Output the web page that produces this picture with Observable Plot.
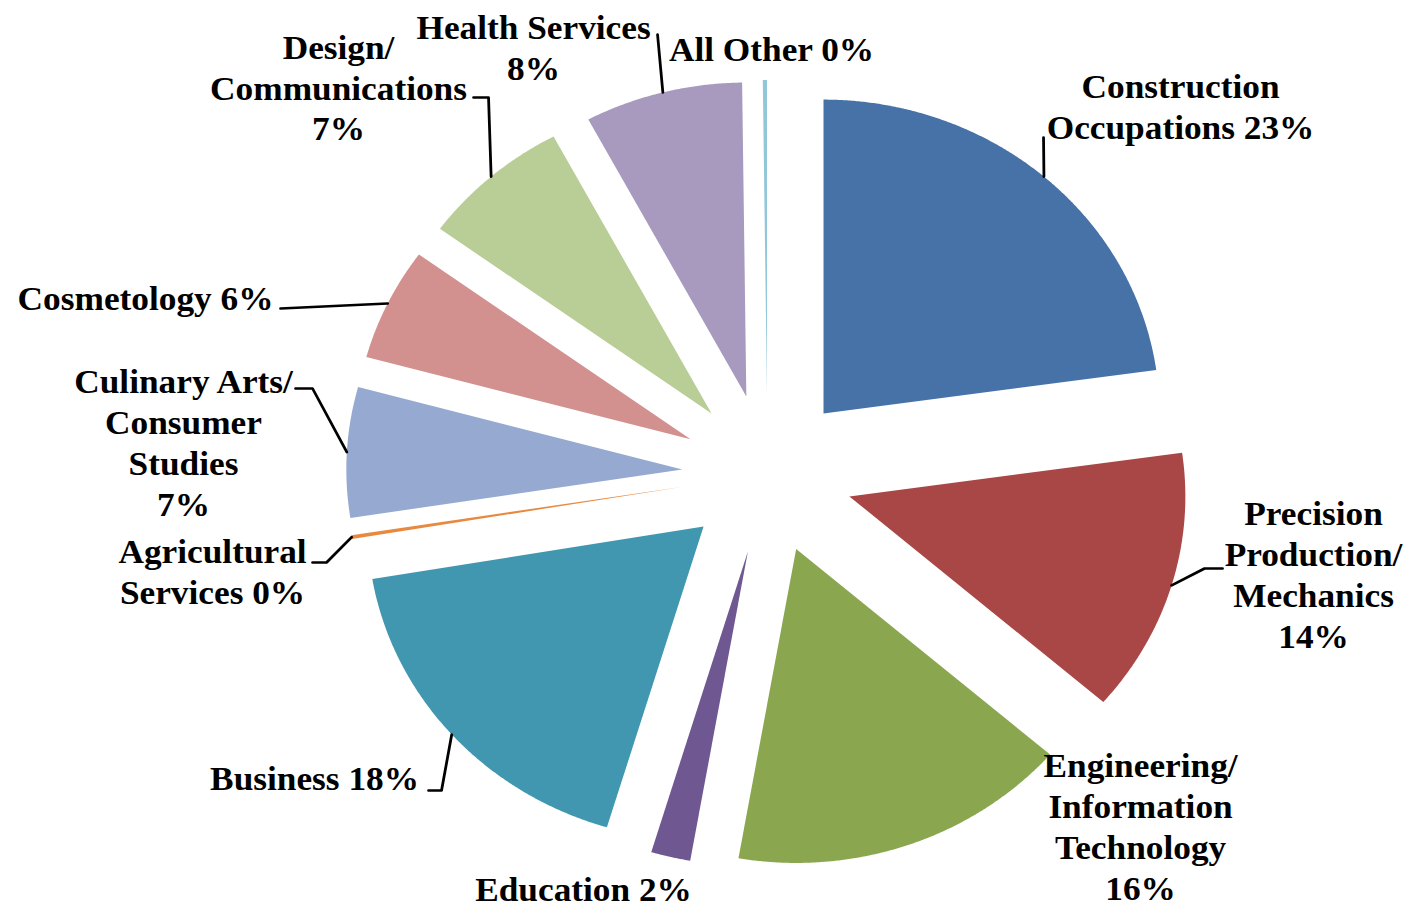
<!DOCTYPE html>
<html><head><meta charset="utf-8">
<script src="https://cdn.jsdelivr.net/npm/d3@7"></script>
<script src="https://cdn.jsdelivr.net/npm/@observablehq/plot@0.6"></script>
<style>
html,body{margin:0;padding:0;background:#fff;overflow:hidden}
#chart{width:1410px;height:909px;overflow:hidden}
#chart svg{transform:scaleX(1.07);transform-origin:0 0;display:block}
</style></head><body><div id="chart"></div>
<script>
// ---- data ----
const categories = ["Construction Occupations","Precision Production/Mechanics","Engineering/Information Technology","Education","Business","Agricultural Services","Culinary Arts/Consumer Studies","Cosmetology","Design/Communications","Health Services","All Other"];
const values = [22.8, 13.6, 16.4, 1.9, 17.7, 0.2, 6.7, 5.8, 7.2, 7.6, 0.2];
const colors = ["#4672A7","#A84745","#8AA64F","#6F5891","#4197AF","#E8893F","#95A9D1","#D2908F","#B9CD97","#A89ABE","#92C7D9"];
const labelTemplates = ["Construction\nOccupations {p}","Precision\nProduction/\nMechanics\n{p}","Engineering/\nInformation\nTechnology\n{p}","Education {p}","Business {p}","Agricultural\nServices {p}","Culinary Arts/\nConsumer\nStudies\n{p}","Cosmetology {p}","Design/\nCommunications\n{p}","Health Services\n{p}","All Other {p}"];

// ---- layout (reference pixel space) ----
const S = 1.07, REF_W = 1410, H = 909, W = Math.round(REF_W / S);
const CXpx = 767, CYpx = 473.3, R = 314, EXPLODE = 0.254;
const cxU = CXpx / S;
const fromPx = (px, py) => ({x: (px / S - cxU) / R, y: (CYpx - py) / R});
const labelPos = [[1180,105],[1313,573],[1140,825],[583,887],[314,776],[212,570],[183,441],[145,296],[338,86],[533,46],[771,47]];
const leaderAnchors = {
  "Construction Occupations": [[1043,137]],
  "Precision Production/Mechanics": [[1222,568],[1204,568]],
  "Business": [[428,790],[441,790]],
  "Agricultural Services": [[312,562],[326,562]],
  "Culinary Arts/Consumer Studies": [[295,388],[312,388]],
  "Cosmetology": [[280,308]],
  "Design/Communications": [[473,97],[488,97]],
  "Health Services": [[657,34]]
};

const total = d3.sum(values);
const arcs = d3.pie().sort(null).value(d => d)(values);
const slicePts = [], leaderPts = [], labels = [];
arcs.forEach((a, i) => {
  const cat = categories[i];
  const m = (a.startAngle + a.endAngle) / 2;
  const ox = EXPLODE * Math.sin(m), oy = EXPLODE * Math.cos(m);
  slicePts.push({cat, x: ox, y: oy});
  const n = Math.max(2, Math.ceil((a.endAngle - a.startAngle) / 0.005));
  for (let k = 0; k <= n; k++) {
    const t = a.startAngle + (a.endAngle - a.startAngle) * k / n;
    slicePts.push({cat, x: ox + Math.sin(t), y: oy + Math.cos(t)});
  }
  if (leaderAnchors[cat]) {
    leaderAnchors[cat].forEach(([px, py]) => leaderPts.push({cat, ...fromPx(px, py)}));
    leaderPts.push({cat, x: ox + Math.sin(m), y: oy + Math.cos(m)});
  }
  const p = Math.round(values[i] / total * 100) + "%";
  labels.push({cat, ...fromPx(labelPos[i][0], labelPos[i][1]), text: labelTemplates[i].replace("{p}", p)});
});

const chart = Plot.plot({
  width: W, height: H,
  margin: 0,
  x: {domain: [(0 - cxU) / R, (W - cxU) / R], axis: null},
  y: {domain: [(CYpx - H) / R, CYpx / R], axis: null},
  color: {domain: categories, range: colors},
  marks: [
    Plot.line(slicePts, {x: "x", y: "y", z: "cat", fill: "cat", stroke: null, curve: "linear-closed"}),
    Plot.line(leaderPts, {x: "x", y: "y", z: "cat", stroke: "#000", strokeWidth: 2.6}),
    Plot.text(labels, {x: "x", y: "y", text: "text", fontSize: 33, fontWeight: "bold", fontFamily: "Liberation Serif", lineHeight: 1.24, textAnchor: "middle", fill: "#000"})
  ]
});
document.getElementById("chart").appendChild(chart);
</script></body></html>
